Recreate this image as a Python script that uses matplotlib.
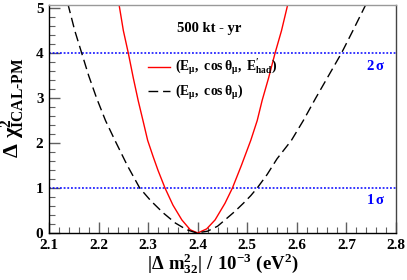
#!/usr/bin/env python3
"""Delta chi^2 vs |dm^2_32| for ICAL-PM, 500 kt-yr."""

import matplotlib
matplotlib.use("Agg")
import matplotlib.pyplot as plt
from matplotlib.ticker import MultipleLocator

# ── data ────────────────────────────────────────────────────────────
red_x   = [2.241, 2.250, 2.260, 2.270, 2.280, 2.290, 2.299, 2.310, 2.320, 2.334,
           2.350, 2.368, 2.385, 2.400, 2.418, 2.435, 2.455, 2.470, 2.488, 2.507,
           2.520, 2.530, 2.543, 2.556, 2.569, 2.582]
red_chi = [5.10, 4.50, 4.00, 3.45, 2.94, 2.48, 2.06, 1.70, 1.39, 1.00,
           0.62, 0.29, 0.07, 0.00, 0.09, 0.29, 0.66, 1.00, 1.50, 2.06,
           2.50, 2.95, 3.45, 4.00, 4.50, 5.10]

blk_x   = [2.138, 2.152, 2.166, 2.180, 2.196, 2.214, 2.233, 2.258, 2.283, 2.305,
           2.330, 2.355, 2.378, 2.398, 2.420, 2.440, 2.455, 2.475, 2.492, 2.507,
           2.520, 2.540, 2.560, 2.589, 2.613, 2.638, 2.664, 2.690, 2.713, 2.740]
blk_chi = [5.10, 4.50, 4.00, 3.50, 3.00, 2.50, 2.06, 1.50, 1.00, 0.72,
           0.45, 0.22, 0.07, 0.00, 0.04, 0.15, 0.29, 0.48, 0.66, 0.83,
           1.00, 1.30, 1.65, 2.06, 2.50, 3.00, 3.50, 4.00, 4.50, 5.10]

sigma_levels = [1, 4]
sigma_labels = [r"$1\,\sigma$", r"$2\,\sigma$"]

red_label = r"$(E_{\mu},\ \cos\theta_{\mu},\ E_{had}^{\prime})$"
blk_label = r"$(E_{\mu},\ \cos\theta_{\mu})$"

# ── style ───────────────────────────────────────────────────────────
plt.rcParams["font.family"] = ["Liberation Serif", "DejaVu Serif"]
plt.rcParams["font.weight"] = "bold"
plt.rcParams["mathtext.fontset"] = "custom"
plt.rcParams["mathtext.rm"] = "Liberation Serif:bold"
plt.rcParams["mathtext.it"] = "Liberation Serif:bold"
plt.rcParams["mathtext.bf"] = "Liberation Serif:bold"
plt.rcParams["mathtext.default"] = "bf"

fig = plt.figure(figsize=(4.07, 2.80), dpi=100)
ax = fig.add_axes([0.1204, 0.168, 0.8526, 0.814])

for lvl, lab in zip(sigma_levels, sigma_labels):
    ax.axhline(lvl, color="#0000ff", linestyle=(0, (1.2, 1.2)), linewidth=1.1)
    ax.text(2.777, lvl - 0.12, lab, color="#0000ff", ha="right", va="top", fontsize=10.5)

ax.plot(red_x, red_chi, color="#ff0000", linewidth=1.0, label=red_label)
ax.plot(blk_x, blk_chi, color="black", linewidth=1.0, dashes=(7, 3.5), label=blk_label)

ax.text(0.369, 0.895, "500 kt - yr", transform=ax.transAxes, fontsize=10.5,
        ha="left", va="center")

ax.legend(loc="upper left", bbox_to_anchor=(0.27, 0.795), frameon=False,
          fontsize=9.8, handlelength=1.6, handletextpad=0.4, labelspacing=0.42,
          borderaxespad=0)

ax.set_xlim(2.1, 2.8)
ax.set_ylim(0, 5.07)
ax.xaxis.set_major_locator(MultipleLocator(0.1))
ax.xaxis.set_minor_locator(MultipleLocator(0.02))
ax.yaxis.set_major_locator(MultipleLocator(1))
ax.yaxis.set_minor_locator(MultipleLocator(0.2))
ax.tick_params(which="both", direction="in", top=False, right=False,
               labelsize=11, color="#606060")
ax.tick_params(which="major", length=8, width=1.0)
ax.tick_params(which="minor", length=4, width=0.8)
ax.tick_params(axis="x", pad=4)
ax.tick_params(axis="y", pad=4)
for t in ax.get_xticklabels() + ax.get_yticklabels():
    t.set_fontweight("bold")

ax.spines["left"].set_color("black")
ax.spines["bottom"].set_color("black")
ax.spines["top"].set_color("#999999")
ax.spines["right"].set_color("#444444")
for s in ax.spines.values():
    s.set_linewidth(1.0)

ax.set_xlabel(r"$|\Delta\ m_{32}^{2}|\ /\ 10^{-3}\ (eV^{2})$", fontsize=13.5, labelpad=0)
ax.set_ylabel(r"$\Delta\ \chi^{2}_{ICAL\text{-}PM}$", fontsize=16)
ax.yaxis.set_label_coords(-0.062, 0.55)

plt.savefig("out.png", dpi=100)
plt.close()
